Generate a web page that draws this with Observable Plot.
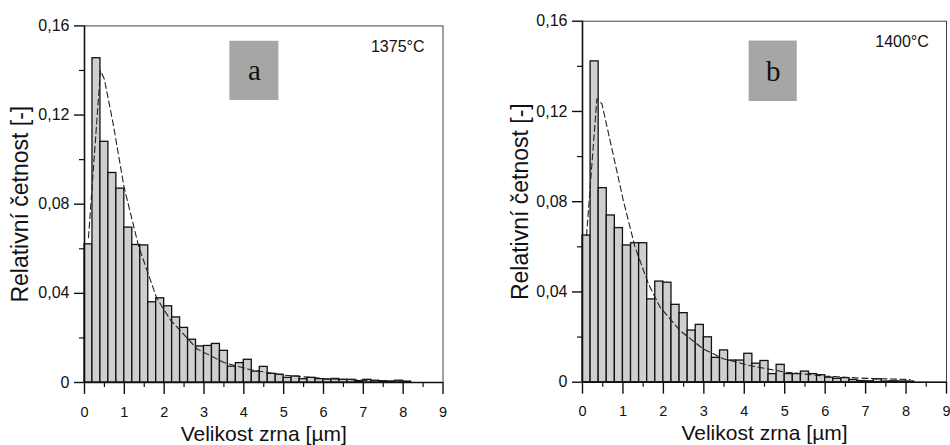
<!DOCTYPE html>
<html>
<head>
<meta charset="utf-8">
<script src="https://cdn.jsdelivr.net/npm/d3@7"></script>
<script src="https://cdn.jsdelivr.net/npm/@observablehq/plot@0.6"></script>
<style>
  html, body { margin: 0; padding: 0; background: #fff; }
  #wrap { position: relative; width: 950px; height: 445px; overflow: hidden; }
  .panel { position: absolute; top: 0; }
</style>
</head>
<body>
<div id="wrap"></div>
<script>
// ---- data ----
const binWidth = 0.2; // µm
const freq1375 = [0.062, 0.1455, 0.108, 0.094, 0.087, 0.0695, 0.0617, 0.0615, 0.036, 0.0378,
  0.0342, 0.0292, 0.0245, 0.0192, 0.0162, 0.0164, 0.0173, 0.0142, 0.0071, 0.0087,
  0.0102, 0.0049, 0.007, 0.0039, 0.0035, 0.0021, 0.0027, 0.0015, 0.0021, 0.0015,
  0.0013, 0.0016, 0.0012, 0.0012, 0.0006, 0.0012, 0.0008, 0.0006, 0.0004, 0.0008, 0.0004];
const freq1400 = [0.065, 0.1422, 0.086, 0.0739, 0.0683, 0.0606, 0.0616, 0.0616, 0.0367, 0.0446,
  0.0441, 0.0343, 0.0306, 0.0229, 0.0254, 0.0199, 0.0108, 0.0141, 0.0096, 0.0096,
  0.0126, 0.0082, 0.0094, 0.0036, 0.0077, 0.0036, 0.0036, 0.0047, 0.0036, 0.0031,
  0.002, 0.0015, 0.0018, 0.001, 0.0005, 0.0004, 0.0013, 0.0003, 0.0004, 0.0003, 0.0003];

const fit1375x = [0.1, 0.4, 0.5, 0.72, 0.99, 1.36, 1.81, 2.16, 2.83, 3.5, 4.17, 5, 6, 7, 8];
const fit1375y = [0.065, 0.140, 0.136, 0.116, 0.088, 0.061, 0.038, 0.028, 0.015, 0.009, 0.0057, 0.0033, 0.0018, 0.001, 0.0005];
const fit1400x = [0.1, 0.355, 0.48, 0.72, 1.01, 1.3, 1.63, 1.92, 2.41, 2.98, 3.48, 4.13, 5, 6, 7, 8.1];
const fit1400y = [0.065, 0.1256, 0.1234, 0.104, 0.0805, 0.0598, 0.0436, 0.0332, 0.0229, 0.0148, 0.0104, 0.0074, 0.0045, 0.0027, 0.0017, 0.0012];

const xMajorTicks = [0, 1, 2, 3, 4, 5, 6, 7, 8, 9];
const xMinorTicks = [0.5, 1.5, 2.5, 3.5, 4.5, 5.5, 6.5, 7.5, 8.5];
const yMajorTicks = [0, 0.04, 0.08, 0.12, 0.16];
const yMinorTicks = [0.02, 0.06, 0.10, 0.14];

const panelLetters = ["a", "b"];
const temperatures = ["1375°C", "1400°C"];
const xTitle = "Velikost zrna [µm]";
const yTitle = "Relativní četnost [-]";

// ---- drawing ----
const fmtY = d => d === 0 ? "0" : d.toFixed(2).replace(".", ",");

function panel(cfg) {
  const bars = cfg.freq.map((v, i) => ({x1: i * binWidth, x2: (i + 1) * binWidth, y: v}));
  const fit = cfg.fitx.map((x, i) => ({x, y: cfg.fity[i]}));
  return Plot.plot({
    width: 475,
    height: 445,
    marginLeft: cfg.ml,
    marginRight: cfg.mr,
    marginTop: cfg.mt,
    marginBottom: cfg.mb,
    style: {fontFamily: "'Liberation Sans', Arial, sans-serif", color: "#111", background: "white"},
    x: {domain: [0, 9], axis: null},
    y: {domain: [0, 0.16], axis: null},
    marks: [
      Plot.rectY(bars, {x1: "x1", x2: "x2", y: "y", fill: "#cfcfcf", stroke: "#111", strokeWidth: 1.3}),
      Plot.line(fit, {x: "x", y: "y", stroke: "#222", strokeWidth: 1.1, strokeDasharray: "6,3.5"}),
      Plot.frame({stroke: "#444", strokeWidth: 1}),
      Plot.ruleY([0], {stroke: "#111", strokeWidth: 1.6}),
      Plot.ruleX([0], {stroke: "#111", strokeWidth: 1.6}),
      Plot.axisX({ticks: xMajorTicks, tickSize: 12, tickPadding: 12, fontSize: 14.5, tickFormat: d => String(d), label: null, stroke: "#111", strokeWidth: 1.4}),
      Plot.axisX({ticks: xMinorTicks, tickSize: 5, tickFormat: () => "", label: null, stroke: "#111", strokeWidth: 1.2}),
      Plot.axisY({ticks: yMajorTicks, tickSize: 10, tickPadding: 5, fontSize: 16, tickFormat: fmtY, label: null, stroke: "#111", strokeWidth: 1.4}),
      Plot.axisY({ticks: yMinorTicks, tickSize: 5, tickFormat: () => "", label: null, stroke: "#111", strokeWidth: 1.2}),
      Plot.rect([cfg.box], {x1: "x1", x2: "x2", y1: "y1", y2: "y2", fill: "#a6a6a6"}),
      Plot.text([cfg.box], {x: d => (d.x1 + d.x2) / 2, y: d => (d.y1 + d.y2) / 2, text: () => cfg.letter,
        fontFamily: "'Liberation Serif', 'Times New Roman', serif", fontSize: 29, fill: "#111", lineAnchor: "middle"}),
      Plot.text([cfg.temp], {frameAnchor: "top-right", text: d => d, dx: cfg.tdx, dy: cfg.tdy, lineAnchor: "top", textAnchor: "end", fontSize: 16, fill: "#111"}),
      Plot.text([xTitle], {frameAnchor: "bottom", text: d => d, dy: 51.5, lineAnchor: "middle", textAnchor: "middle", fontSize: 21, fill: "#111"}),
      Plot.text([yTitle], {frameAnchor: "left", text: d => d, dx: cfg.ydx, rotate: -90, lineAnchor: "middle", textAnchor: "middle", fontSize: 23, fill: "#111"})
    ]
  });
}

const wrap = document.getElementById("wrap");
const left = panel({freq: freq1375, fitx: fit1375x, fity: fit1375y, ml: 84, mr: 32.5, mt: 25.4, mb: 63,
  box: {x1: 3.65, x2: 4.88, y1: 0.1265, y2: 0.1531}, letter: panelLetters[0], temp: temperatures[0], tdx: -18.5, tdy: 14.6, ydx: -64});
const right = panel({freq: freq1400, fitx: fit1400x, fity: fit1400y, ml: 107, mr: 4, mt: 20.7, mb: 63.3,
  box: {x1: 4.12, x2: 5.31, y1: 0.1244, y2: 0.1512}, letter: panelLetters[1], temp: temperatures[1], tdx: -17.7, tdy: 14.3, ydx: -62});
left.classList.add("panel"); left.style.left = "0px";
right.classList.add("panel"); right.style.left = "475px";
wrap.appendChild(left);
wrap.appendChild(right);
</script>
</body>
</html>
